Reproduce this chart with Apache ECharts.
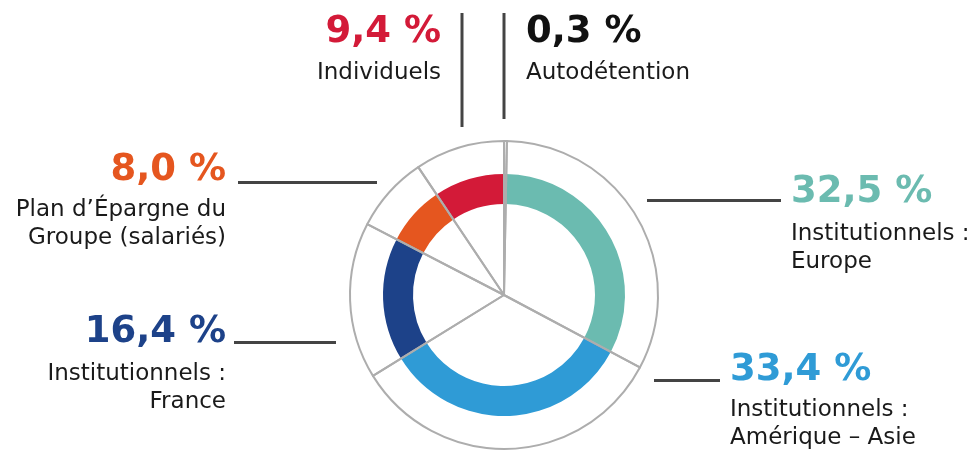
<!DOCTYPE html>
<html>
<head>
<meta charset="utf-8">
<script src="https://cdn.jsdelivr.net/npm/echarts@6/dist/echarts.min.js"></script>
<style>
  html, body { margin: 0; padding: 0; background: #fff; }
  #chart { width: 975px; height: 451px; }
</style>
</head>
<body>
<div id="chart"></div>
<script>
// actionnariat, parts en %
const names = [
  'Autodétention',
  'Institutionnels :\nEurope',
  'Institutionnels :\nAmérique – Asie',
  'Institutionnels :\nFrance',
  'Plan d’Épargne du\nGroupe (salariés)',
  'Individuels'
]
const values = [0.3, 32.5, 33.4, 16.4, 8.0, 9.4]
const colors = ['#b0b0b0', '#6bbbb0', '#2f9bd6', '#1d4289', '#e5561f', '#d31a38']
const textColors = ['#111111', '#6bbbb0', '#2f9bd6', '#1d4289', '#e5561f', '#d31a38']

// placement des étiquettes (x, y du pourcentage, alignement, y du libellé, segment de rappel)
const layout = [
  { x: 526, y: 32, align: 'left', ly: 59, line: [504, 13, 504, 119] },
  { x: 791, y: 192, align: 'left', ly: 220, line: [647, 200.5, 781, 200.5] },
  { x: 730, y: 370, align: 'left', ly: 396, line: [654, 380.5, 720, 380.5] },
  { x: 226, y: 332, align: 'right', ly: 360, line: [234, 342.5, 336, 342.5] },
  { x: 226, y: 170, align: 'right', ly: 196, line: [238, 182.5, 377, 182.5] },
  { x: 441, y: 32, align: 'right', ly: 59, line: [462, 13, 462, 127] }
]

const pieData = names.map((n, i) => ({ name: n, value: values[i], itemStyle: { color: colors[i] } }))

const graphics = []
layout.forEach((p, i) => {
  graphics.push({
    type: 'line',
    shape: { x1: p.line[0], y1: p.line[1], x2: p.line[2], y2: p.line[3] },
    style: { stroke: '#444444', lineWidth: 3 }
  })
  graphics.push({
    type: 'text',
    x: p.x,
    y: p.y,
    style: {
      text: values[i].toFixed(1).replace('.', ',') + ' %',
      fill: textColors[i],
      font: 'bold 37px "DejaVu Sans"',
      align: p.align,
      verticalAlign: 'middle'
    }
  })
  graphics.push({
    type: 'text',
    x: p.x,
    y: p.ly,
    style: {
      text: names[i],
      fill: '#1a1a1a',
      font: '23px "DejaVu Sans"',
      lineHeight: 28,
      align: p.align,
      verticalAlign: 'top'
    }
  })
})

const chart = echarts.init(document.getElementById('chart'))
chart.setOption({
  animation: false,
  backgroundColor: '#fff',
  graphic: graphics,
  series: [
    {
      type: 'pie',
      center: [504, 295],
      radius: [91, 121],
      startAngle: 90,
      label: { show: false },
      labelLine: { show: false },
      emphasis: { disabled: true },
      data: pieData
    },
    {
      // secteurs vides : rayons et cercle extérieur gris
      type: 'pie',
      z: 5,
      center: [504, 295],
      radius: [0, 154],
      startAngle: 90,
      label: { show: false },
      labelLine: { show: false },
      emphasis: { disabled: true },
      itemStyle: { color: 'rgba(0,0,0,0)', borderColor: '#adadad', borderWidth: 2 },
      data: values.map((v, i) => ({ name: names[i], value: v }))
    }
  ]
})
</script>
</body>
</html>
